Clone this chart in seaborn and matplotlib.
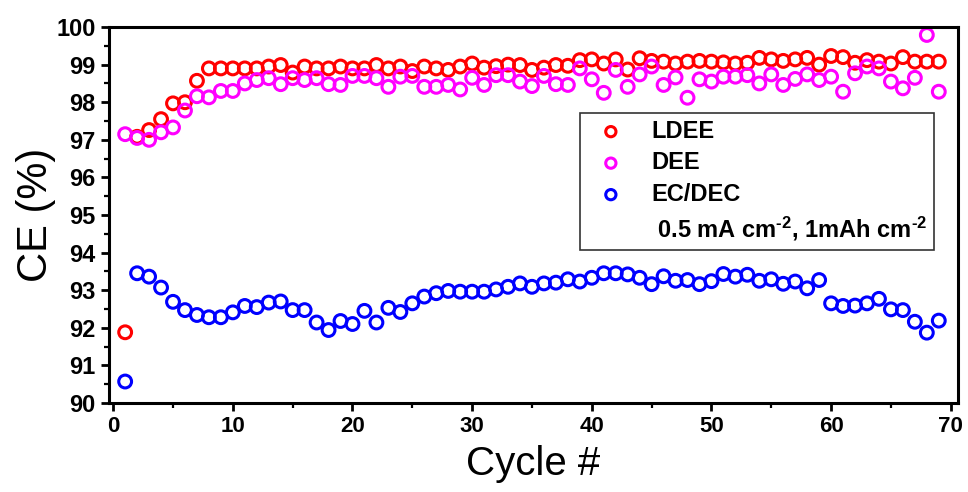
import seaborn as sns
import matplotlib.pyplot as plt
import numpy as np
import pandas as pd
from matplotlib.lines import Line2D
from matplotlib.ticker import MultipleLocator

cycles = np.arange(1, 70)

ldee = [91.88, 97.08, 97.26, 97.55, 97.97, 98.0, 98.57, 98.9, 98.9, 98.9,
        98.9, 98.9, 98.95, 98.99, 98.79, 98.95, 98.9, 98.9, 98.95, 98.9,
        98.9, 98.99, 98.9, 98.95, 98.83, 98.95, 98.9, 98.86, 98.95, 99.03,
        98.92, 98.96, 99.0, 98.99, 98.86, 98.92, 98.99, 98.97, 99.12, 99.14,
        99.03, 99.14, 98.87, 99.17, 99.1, 99.08, 99.03, 99.08, 99.1, 99.08,
        99.06, 99.03, 99.05, 99.18, 99.14, 99.1, 99.14, 99.18, 99.0, 99.23,
        99.2, 99.05, 99.12, 99.08, 99.03, 99.2, 99.08, 99.08, 99.08]

dee = [97.15, 97.05, 97.0, 97.2, 97.33, 97.78, 98.16, 98.13, 98.3, 98.3,
       98.5, 98.59, 98.64, 98.48, 98.64, 98.59, 98.64, 98.48, 98.46, 98.7,
       98.7, 98.64, 98.41, 98.68, 98.7, 98.41, 98.41, 98.46, 98.34, 98.65,
       98.46, 98.72, 98.72, 98.55, 98.43, 98.7, 98.48, 98.46, 98.9, 98.61,
       98.25, 98.86, 98.41, 98.74, 98.95, 98.46, 98.66, 98.12, 98.61, 98.55,
       98.68, 98.68, 98.72, 98.5, 98.74, 98.46, 98.62, 98.74, 98.59, 98.68,
       98.28, 98.77, 98.95, 98.9, 98.55, 98.37, 98.65, 99.79, 98.28]

ecdec = [90.57, 93.45, 93.36, 93.07, 92.69, 92.47, 92.34, 92.28, 92.28, 92.41,
         92.58, 92.55, 92.67, 92.7, 92.47, 92.47, 92.14, 91.94, 92.18, 92.1,
         92.45, 92.14, 92.53, 92.42, 92.65, 92.83, 92.92, 92.98, 92.96, 92.96,
         92.96, 93.02, 93.09, 93.18, 93.09, 93.18, 93.2, 93.29, 93.23, 93.33,
         93.45, 93.45, 93.42, 93.33, 93.16, 93.37, 93.25, 93.27, 93.16, 93.24,
         93.43, 93.36, 93.41, 93.25, 93.29, 93.17, 93.23, 93.05, 93.27, 92.65,
         92.58, 92.59, 92.65, 92.77, 92.49, 92.47, 92.16, 91.87, 92.19]

series_names = ['LDEE', 'DEE', 'EC/DEC']
series_colors = ['#ff0000', '#ff00ff', '#0000ff']
condition_label = r' 0.5 mA cm$^{\text{-}2}$, 1mAh cm$^{\text{-}2}$'

df = pd.DataFrame({'cycle': np.tile(cycles, 3),
                   'ce': ldee + dee + ecdec,
                   'electrolyte': np.repeat(series_names, len(cycles))})

sns.set_style('ticks')
plt.rcParams['font.family'] = ['Liberation Sans', 'DejaVu Sans']
plt.rcParams['mathtext.fontset'] = 'custom'
plt.rcParams['mathtext.rm'] = 'Liberation Sans:bold'
plt.rcParams['mathtext.default'] = 'rm'
for key in ['text.color', 'axes.labelcolor', 'xtick.color', 'ytick.color', 'axes.edgecolor']:
    plt.rcParams[key] = 'black'

fig = plt.figure(figsize=(9.68, 4.92), dpi=100)
ax = fig.add_axes([0.1126, 0.181, 0.877, 0.764])

for name, col in zip(series_names, series_colors):
    sub = df[df['electrolyte'] == name]
    sns.scatterplot(data=sub, x='cycle', y='ce', ax=ax, color=col,
                    facecolors='none', edgecolor=col, linewidth=2.2,
                    s=85, marker='o', label=name)

ax.set_xlim(-0.35, 70.6)
ax.set_ylim(90, 100)
ax.xaxis.set_major_locator(MultipleLocator(10))
ax.xaxis.set_minor_locator(MultipleLocator(5))
ax.yaxis.set_major_locator(MultipleLocator(1))
ax.yaxis.set_minor_locator(MultipleLocator(0.5))
ax.tick_params(which='major', direction='out', length=6, width=2, top=False, right=False)
ax.tick_params(which='minor', direction='out', length=3.5, width=1.6, top=False, right=False)
for lab in ax.get_yticklabels():
    lab.set_fontweight('bold')
    lab.set_fontsize(17)
for lab in ax.get_xticklabels():
    lab.set_fontweight('bold')
    lab.set_fontsize(16)
    lab.set_family(['Liberation Sans Narrow', 'Liberation Sans'])
for sp in ax.spines.values():
    sp.set_linewidth(2.2)
    sp.set_visible(True)

ax.set_xlabel('Cycle #', fontsize=29, labelpad=6)
ax.set_ylabel('CE (%)', fontsize=30)
ax.yaxis.set_label_coords(-0.062, 0.5)

handles, labels = ax.get_legend_handles_labels()
handles.append(Line2D([], [], linestyle='none', marker=None))
labels.append(condition_label)
leg = ax.legend(handles, labels, loc='upper left', bbox_to_anchor=(0.555, 0.772),
                frameon=True, fancybox=False, edgecolor='#333333', framealpha=1,
                prop={'weight': 'bold', 'size': 17}, handletextpad=0.7,
                borderpad=0.3, labelspacing=0.36, markerscale=0.8, borderaxespad=0)
leg.get_frame().set_linewidth(1.2)

fig.savefig('out.png', dpi=100)
